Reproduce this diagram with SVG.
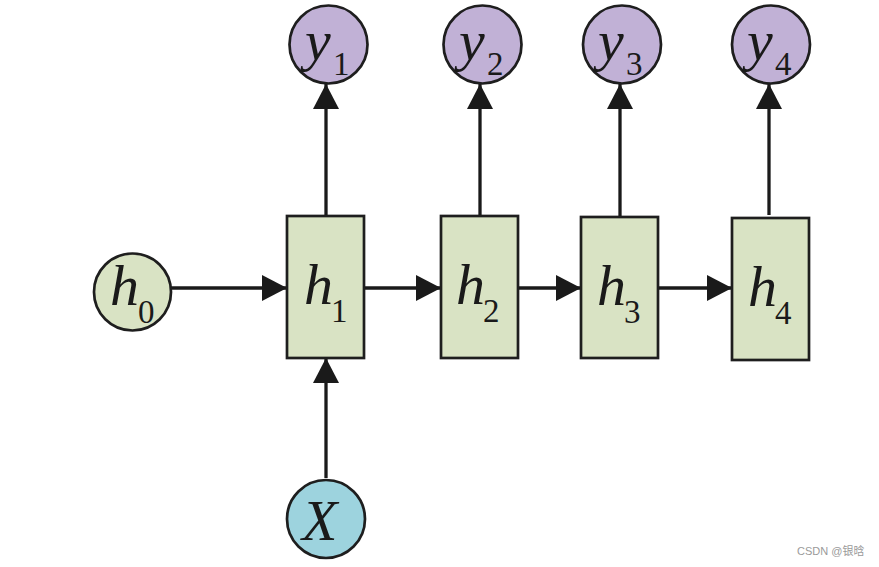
<svg xmlns="http://www.w3.org/2000/svg" width="879" height="567" viewBox="0 0 879 567">
<defs>
<style>
.box{fill:#d9e3c4;stroke:#1e1e1e;stroke-width:2.7}
.hc{fill:#d9e3c4;stroke:#1e1e1e;stroke-width:2.7}
.yc{fill:#c1b1d6;stroke:#1e1e1e;stroke-width:2.7}
.xc{fill:#9dd3de;stroke:#1e1e1e;stroke-width:2.7}
.ln{stroke:#1a1a1a;stroke-width:3.3;fill:none}
.v{font-family:"Liberation Serif","Times New Roman",serif;font-style:italic;font-size:58px;fill:#1a1a1a}
.s{font-family:"Liberation Serif","Times New Roman",serif;font-size:33px;fill:#1a1a1a}
.wm{font-family:"Liberation Sans","Noto Sans CJK SC",sans-serif;font-size:11px;fill:#9a9a9a}
</style>
<marker id="ah" markerWidth="25" markerHeight="26" refX="25" refY="13" orient="auto" markerUnits="userSpaceOnUse">
<path d="M0,0 L25,13 L0,26 Z" fill="#1a1a1a"/>
</marker>
</defs>
<rect width="879" height="567" fill="#ffffff"/>
<g id="connectors">
<line class="ln" x1="171" y1="288" x2="287" y2="288" marker-end="url(#ah)"/>
<line class="ln" x1="364" y1="288" x2="441" y2="288" marker-end="url(#ah)"/>
<line class="ln" x1="518" y1="288" x2="581" y2="288" marker-end="url(#ah)"/>
<line class="ln" x1="658" y1="288" x2="732" y2="288" marker-end="url(#ah)"/>
<line class="ln" x1="326" y1="478" x2="326" y2="358" marker-end="url(#ah)"/>
<line class="ln" x1="326" y1="216" x2="326" y2="84" marker-end="url(#ah)"/>
<line class="ln" x1="480" y1="216" x2="480" y2="84" marker-end="url(#ah)"/>
<line class="ln" x1="620" y1="217" x2="620" y2="84" marker-end="url(#ah)"/>
<line class="ln" x1="769" y1="215" x2="769" y2="84" marker-end="url(#ah)"/>
</g>
<g id="h0">
<circle class="hc" cx="132.5" cy="292" r="38.5"/>
<text class="v" x="110" y="305">h</text><text class="s" x="138" y="323">0</text>
</g>
<g id="h1">
<rect class="box" x="287" y="216" width="77" height="142"/>
<text class="v" x="304" y="304">h</text><text class="s" x="331" y="322">1</text>
</g>
<g id="h2">
<rect class="box" x="441" y="216" width="77" height="142"/>
<text class="v" x="456" y="304">h</text><text class="s" x="483" y="322">2</text>
</g>
<g id="h3">
<rect class="box" x="581" y="217" width="77" height="141"/>
<text class="v" x="597" y="305">h</text><text class="s" x="624" y="323">3</text>
</g>
<g id="h4">
<rect class="box" x="732" y="218" width="77" height="142"/>
<text class="v" x="748" y="306">h</text><text class="s" x="775" y="324">4</text>
</g>
<g id="y1">
<circle class="yc" cx="328.5" cy="44.5" r="39"/>
<text class="v" x="305" y="60">y</text><text class="s" x="333" y="75">1</text>
</g>
<g id="y2">
<circle class="yc" cx="482.5" cy="44.5" r="39"/>
<text class="v" x="459" y="60">y</text><text class="s" x="487" y="75">2</text>
</g>
<g id="y3">
<circle class="yc" cx="622" cy="44.5" r="39"/>
<text class="v" x="598" y="60">y</text><text class="s" x="626" y="75">3</text>
</g>
<g id="y4">
<circle class="yc" cx="771" cy="44.5" r="39"/>
<text class="v" x="747" y="60">y</text><text class="s" x="775" y="75">4</text>
</g>
<g id="X">
<circle class="xc" cx="326" cy="519" r="39"/>
<text class="v" x="302" y="540">X</text>
</g>
<text class="wm" x="797" y="555">CSDN @银晗</text>
</svg>
